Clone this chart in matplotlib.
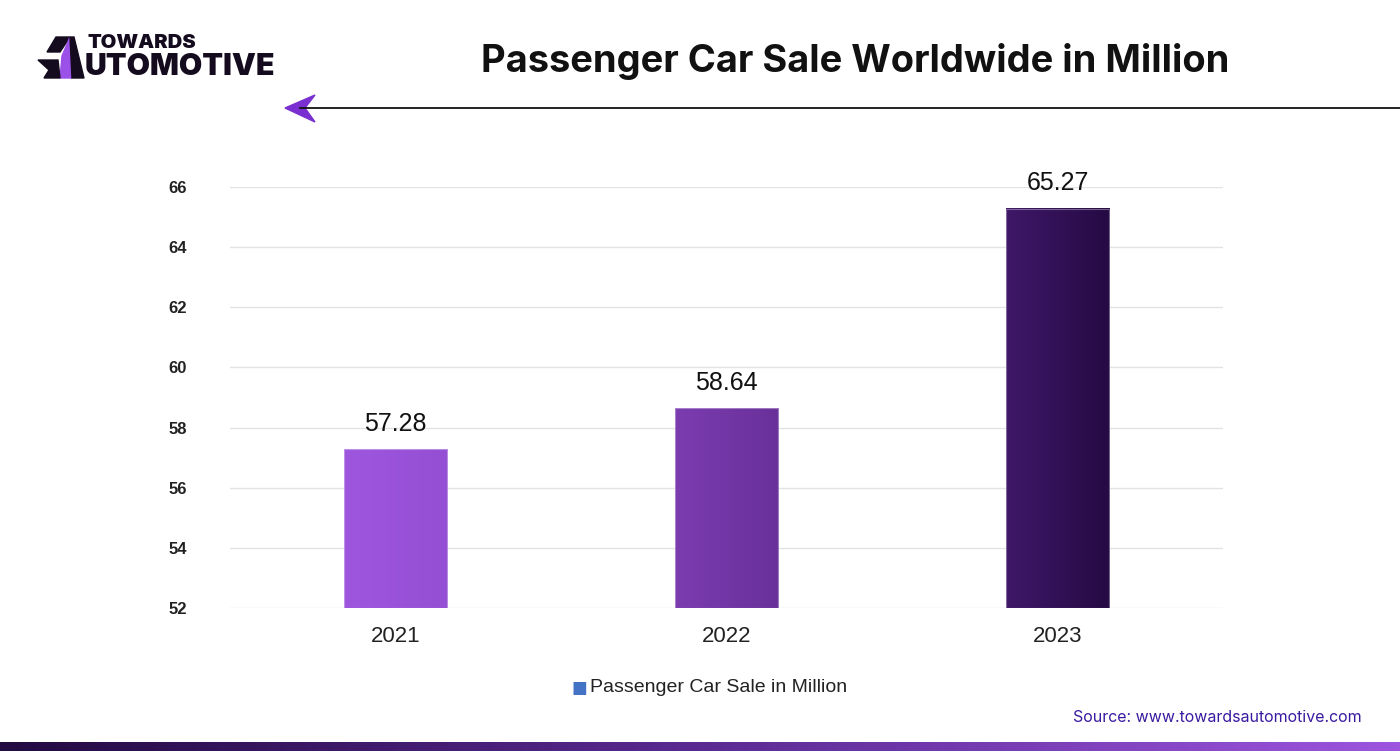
import numpy as np
import matplotlib
matplotlib.use("Agg")
import matplotlib.pyplot as plt
from matplotlib.colors import LinearSegmentedColormap
from matplotlib.patches import Polygon, Rectangle

plt.rcParams['font.family'] = ['Liberation Sans', 'DejaVu Sans']

years = ["2021", "2022", "2023"]
sales = [57.28, 58.64, 65.27]
yticks = [52, 54, 56, 58, 60, 62, 64, 66]
# left / right colour of each bar's gradient
bar_colors = [("#9e56df", "#944fd4"), ("#7b3cb0", "#69309a"), ("#3f1868", "#250a44")]

fig = plt.figure(figsize=(14, 7.51), dpi=100)
ax = fig.add_axes([230 / 1400, (751 - 608) / 751, 993 / 1400, 421 / 751])

x = np.arange(len(years))
w = 0.314

for xi, v, (c1, c2) in zip(x, sales, bar_colors):
    cmap = LinearSegmentedColormap.from_list("g", [c1, c2])
    grad = np.linspace(0, 1, 64).reshape(1, -1)
    ax.imshow(grad, cmap=cmap, aspect="auto", extent=(xi - w / 2, xi + w / 2, 52, v),
              zorder=2, interpolation="bilinear")
    ax.add_patch(Rectangle((xi - w / 2, 52), w, v - 52, fill=False,
                           edgecolor=(1, 1, 1, 0.35), lw=0.8, zorder=3))
    ax.text(xi, v + 0.45, f"{v:.2f}", ha="center", va="bottom", fontsize=18,
            color="#111111", zorder=4)

ax.set_xlim(-0.5, len(years) - 0.5)
ax.set_ylim(52, 66)
ax.set_xticks(x)
ax.set_xticklabels(years, fontsize=16, color="#222222")
ax.set_yticks(yticks)
ax.set_yticklabels([str(t) for t in yticks], fontsize=12, color="#222222", fontweight="bold")
ax.tick_params(length=0)
ax.tick_params(axis="y", pad=31)
ax.tick_params(axis="x", pad=13)
ax.grid(axis="y", color="#e3e3e3", lw=1, zorder=0)
ax.set_axisbelow(True)
for s in ax.spines.values():
    s.set_visible(False)

# legend
fig.text(579 / 1400, 1 - 688 / 751, "\u25A0", color="#4472c4", fontsize=12, ha="center", va="center",
         family="DejaVu Sans")
fig.text(590 / 1400, 1 - 688 / 751, "Passenger Car Sale in Million", fontsize=14,
         color="#222222", ha="left", va="center")

# title
fig.text(855 / 1400, 1 - 61 / 751, "Passenger Car Sale Worldwide in Million", fontsize=27.4,
         fontweight="bold", color="#111111", ha="center", va="center", family="Inter")

fig.text(1362 / 1400, 1 - 718 / 751, "Source: www.towardsautomotive.com", fontsize=11.5,
         color="#3a1aa0", ha="right", va="center", family="Inter")

# overlay for decorations
ov = fig.add_axes([0, 0, 1, 1], zorder=5)
ov.set_xlim(0, 1400)
ov.set_ylim(751, 0)
ov.axis("off")

# line with arrow under title
ov.plot([300, 1400], [108, 108], color="#111111", lw=1.3)
ov.add_patch(Polygon([[285, 108], [315, 95], [305, 108], [315, 122]], closed=True,
                     color="#7a30d0"))

# bottom gradient strip
strip = LinearSegmentedColormap.from_list("s", ["#230a42", "#5a2a92", "#9d55df"])
ov.imshow(np.linspace(0, 1, 256).reshape(1, -1), cmap=strip, aspect="auto",
          extent=(0, 1400, 751, 742))

# logo
dark = "#150b1e"
ov.add_patch(Polygon([[56, 37], [70, 37], [60, 52], [47, 52]], closed=True, color=dark))
ov.add_patch(Polygon([[70, 37], [72, 78], [60, 78], [62, 56]], closed=True, color="#9b50e8"))
ov.add_patch(Polygon([[38, 60], [58, 60], [60, 78], [44, 78], [49, 70]], closed=True, color=dark))
ov.add_patch(Polygon([[70, 37], [74, 37], [84, 78], [72, 78]], closed=True, color=dark))
ov.text(88, 43, "TOWARDS", fontsize=14.5, fontweight="black", color=dark, va="center",
        ha="left", family="Inter")
ov.text(85, 67, "UTOMOTIVE", fontsize=21.8, fontweight="black", color=dark, va="center",
        ha="left", family="Inter")

fig.savefig("out.png", dpi=100)
